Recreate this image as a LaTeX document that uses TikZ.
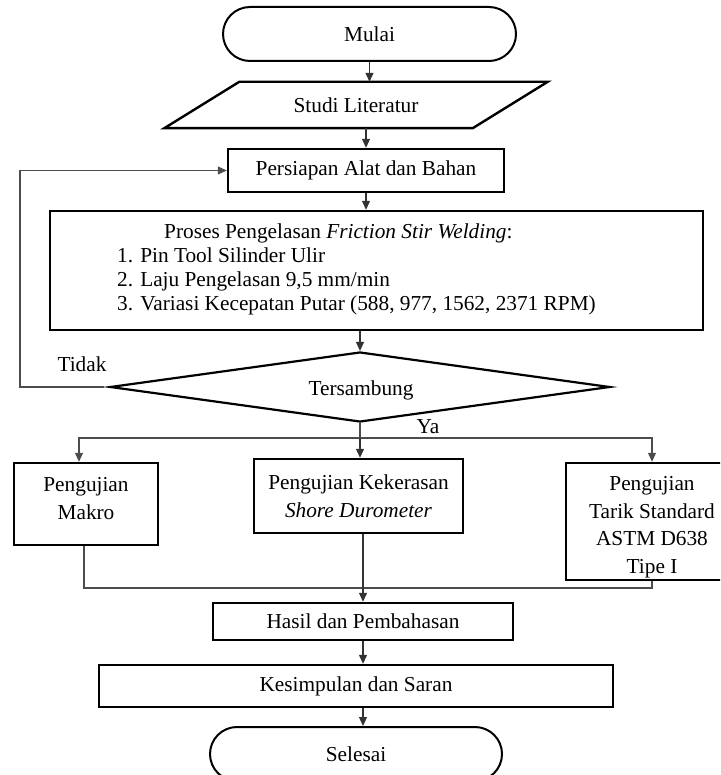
\documentclass[tikz,border=0pt]{standalone}
\usepackage{fontspec}
\setmainfont{Liberation Serif}
\usetikzlibrary{shapes.geometric,shapes.misc,arrows.meta}
\tikzset{every node/.style={font=\fontsize{21.3}{27.5}\selectfont, inner sep=0pt, align=center},
  kotak/.style={draw, line width=2.4pt, rectangle},
  terminal/.style={draw, line width=2pt, rounded rectangle},
  keputusan/.style={draw, line width=2.2pt, diamond, aspect=7},
  panah/.style={line width=1.2pt, black!80, -{Triangle[length=9pt,width=8pt]}},
  garis/.style={line width=1.1pt, black!70}}

\begin{document}
\begin{tikzpicture}[x=1pt,y=-1pt]
  \useasboundingbox (0,0) rectangle (720,775);
  \clip (0,0) rectangle (720,775);
  \node[terminal, minimum width=293pt, minimum height=54pt] (mulai) at (369.5,34) {Mulai};
  \node[minimum width=308pt, minimum height=46pt] (studi) at (356,105) {Studi Literatur};
  \draw[line width=2.4pt] ([xshift=-37.5pt]studi.south west) -- ([xshift=37.5pt]studi.north west)
    -- ([xshift=37.5pt]studi.north east) -- ([xshift=-37.5pt]studi.south east) -- cycle;
  \node[kotak, minimum width=276pt, minimum height=43pt] (persiapan) at (366,170.5) {Persiapan Alat dan Bahan};
  \node[kotak, minimum width=653pt, minimum height=119pt] (proses) at (376.5,270.5) {};
  \node[anchor=west, align=left, font=\fontsize{21.3}{24}\selectfont] (prosesteks) at (117,269)
    {\hspace*{47pt}Proses Pengelasan \textit{Friction Stir Welding}:\\1. Pin Tool Silinder Ulir\\2. Laju Pengelasan 9,5 mm/min\\3. Variasi Kecepatan Putar (588, 977, 1562, 2371 RPM)};
  \node[keputusan, minimum width=500pt, minimum height=70pt] (tersambung) at (360,387) {};
  \node (tersambungteks) at (361,390) {Tersambung};
  \node (tidak) at (82,364) {Tidak};
  \node (ya) at (428,427) {Ya};
  \node[kotak, minimum width=144pt, minimum height=82pt] (makro) at (86,504) {};
  \node (makroteks) at (86,498.5) {Pengujian\\Makro};
  \node[kotak, minimum width=209pt, minimum height=74pt] (kekerasan) at (358.5,496) {Pengujian Kekerasan\\\textit{Shore Durometer}};
  \node[kotak, minimum width=172pt, minimum height=117pt] (tarik) at (652,521.5) {};
  \node (tarikteks) at (652,527) {Pengujian\\Tarik Standard\\ASTM D638\\Tipe I};
  \node[kotak, minimum width=300pt, minimum height=37pt] (hasil) at (363,621.5) {Hasil dan Pembahasan};
  \node[kotak, minimum width=514pt, minimum height=42pt] (kesimpulan) at (356,686) {Kesimpulan dan Saran};
  \node[terminal, minimum width=292pt, minimum height=54pt] (selesai) at (356,754) {Selesai};
  \coordinate (kiri) at (20,170.5);
  \coordinate (cabang) at (360,438);
  \coordinate (gabung) at (363,588);
  \draw[panah] (mulai.south) -- (mulai.south |- studi.north);
  \draw[panah] (persiapan.north |- studi.south) -- (persiapan.north);
  \draw[panah] (persiapan.south) -- (persiapan.south |- proses.north);
  \draw[panah] (tersambung.north |- proses.south) -- (tersambung.north);
  \draw[panah,garis] ([xshift=-5pt]tersambung.west) -| (kiri) -- (persiapan.west);
  \draw[garis] (tersambung.south) -- (cabang);
  \draw[panah,garis] (cabang) -| ([xshift=-7pt]makro.north);
  \draw[panah,garis] (cabang) -| (tarik.north);
  \draw[panah] (cabang) -- (cabang |- kekerasan.north);
  \draw[garis] ([xshift=-2pt]makro.south) |- (gabung) -| (tarik.south);
  \draw[panah] (gabung |- kekerasan.south) -- (gabung |- hasil.north);
  \draw[panah] (hasil.south) -- (hasil.south |- kesimpulan.north);
  \draw[panah] (hasil.south |- kesimpulan.south) -- (hasil.south |- selesai.north);
\end{tikzpicture}
\end{document}
